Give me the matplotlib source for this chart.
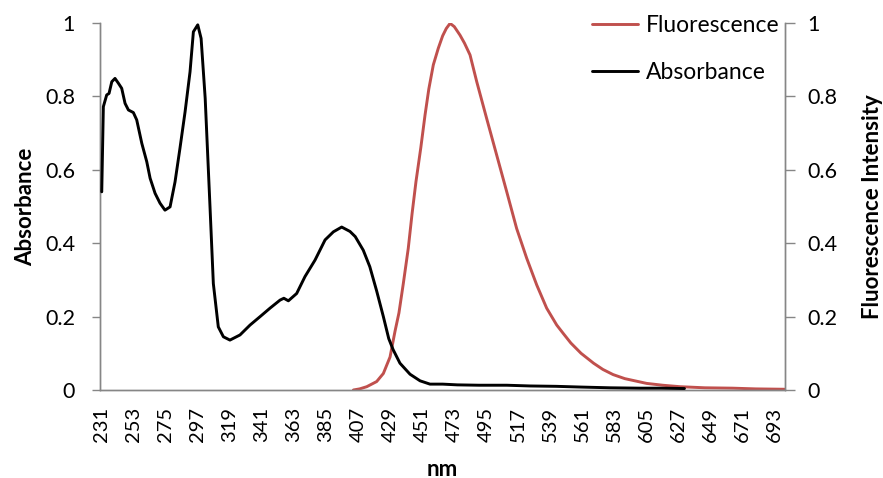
import matplotlib
matplotlib.use("Agg")
import matplotlib.pyplot as plt

plt.rcParams['font.family'] = ['Lato', 'DejaVu Sans']

# Absorbance spectrum (nm, normalised absorbance)
abs_nm = [231, 232.1, 234.4, 236, 237.9, 240.1, 242.4, 244.7, 247, 249.3, 252.7, 255,
          258.5, 261.9, 264.2, 267.6, 271, 274.4, 277.9, 281.3, 284.7, 288.2, 291.6,
          293.9, 296.9, 299.2, 302, 305.3, 307.6, 311, 314.5, 319, 325.9, 332.8, 339.7,
          346.5, 353.4, 356, 359.1, 364.8, 370.5, 377.4, 384.3, 390, 395.7, 401.4, 405,
          410.5, 415, 419.7, 424.3, 428, 431, 435.7, 442.6, 449.5, 456.3, 465, 475, 490,
          509, 525, 543, 560, 580, 600, 615, 631]
abs_val = [0.54, 0.772, 0.804, 0.808, 0.84, 0.849, 0.836, 0.822, 0.781, 0.763, 0.756, 0.736,
           0.672, 0.622, 0.577, 0.536, 0.509, 0.49, 0.499, 0.567, 0.659, 0.758, 0.867,
           0.976, 0.995, 0.958, 0.795, 0.50, 0.29, 0.172, 0.145, 0.136, 0.15, 0.177, 0.2,
           0.223, 0.245, 0.25, 0.243, 0.263, 0.309, 0.354, 0.409, 0.431, 0.444, 0.432, 0.418,
           0.381, 0.336, 0.27, 0.2, 0.14, 0.11, 0.073, 0.043, 0.025, 0.016, 0.016, 0.014, 0.013,
           0.013, 0.011, 0.010, 0.008, 0.006, 0.005, 0.005, 0.004]

# Fluorescence emission spectrum (nm, normalised intensity)
flu_nm = [403.7, 408, 412.9, 419.7, 424.3, 428.9, 432.3, 435, 438, 441.4, 444, 446.7, 450,
          452.9, 455.5, 458.6, 462, 465, 467.5, 470.1, 473, 476.9, 480, 483.8, 488.4, 495.2,
          502.1, 509, 515.8, 522.7, 529.6, 536.4, 543.3, 547.8, 553, 560, 568.6, 575, 582,
          590, 605, 616, 628, 645, 664, 680, 700]
flu_val = [0.0, 0.003, 0.009, 0.023, 0.045, 0.09, 0.16, 0.21, 0.29, 0.386, 0.48, 0.568, 0.66,
           0.749, 0.82, 0.886, 0.931, 0.965, 0.985, 0.999, 0.99, 0.967, 0.945, 0.913, 0.84, 0.74,
           0.64, 0.54, 0.44, 0.359, 0.286, 0.223, 0.177, 0.154, 0.128, 0.10, 0.073, 0.056, 0.042,
           0.031, 0.018, 0.013, 0.009, 0.006, 0.005, 0.003, 0.002]

x_ticks = list(range(231, 694, 22))
y_ticks = [0, 0.2, 0.4, 0.6, 0.8, 1]
y_tick_labels = ['0', '0.2', '0.4', '0.6', '0.8', '1']

W, H = 883, 478
fig = plt.figure(figsize=(W / 100, H / 100), dpi=100)
ax = fig.add_axes([100 / W, 1 - 390 / H, 685 / W, 367 / H])
ax2 = ax.twinx()

red = '#C0504D'
axis_gray = '#868686'

line_kw = dict(lw=2.1, solid_joinstyle='round', solid_capstyle='round')
la, = ax.plot(abs_nm, abs_val, color='black', label='Absorbance', zorder=3, **line_kw)
lf, = ax2.plot(flu_nm, flu_val, color=red, label='Fluorescence', zorder=2, **line_kw)
ax.set_zorder(ax2.get_zorder() + 1)
ax.patch.set_visible(False)

for a in (ax, ax2):
    a.set_xlim(229.8, 700)
    a.set_ylim(0, 1)
    a.set_yticks(y_ticks)
    a.set_yticklabels(y_tick_labels)
    for s in a.spines.values():
        s.set_color(axis_gray)
        s.set_linewidth(1.0)
    a.spines['top'].set_visible(False)

ax.tick_params(axis='y', length=6, width=1.0, color=axis_gray, labelsize=15.5, pad=12)
ax2.tick_params(axis='y', length=7, width=1.0, color=axis_gray, labelsize=15.5, pad=9)

ax.set_xticks(x_ticks)
ax.set_xticklabels([str(t) for t in x_ticks], rotation=90)
ax.tick_params(axis='x', length=0, labelsize=14.5, pad=12)

ax.set_ylabel('Absorbance', fontsize=16, fontweight='bold', labelpad=6)
ax2.set_ylabel('Fluorescence Intensity', fontsize=16, fontweight='bold', labelpad=18)
ax.set_xlabel('nm', fontsize=16, fontweight='bold', labelpad=12)

ax.legend(handles=[lf, la], loc='upper left',
          bbox_to_anchor=(592 / W, 1 - 15 / H), bbox_transform=fig.transFigure,
          frameon=False, fontsize=16.5, handlelength=2.0, labelspacing=1.15,
          handletextpad=0.35, borderpad=0, borderaxespad=0)

fig.savefig('out.png', dpi=100)
